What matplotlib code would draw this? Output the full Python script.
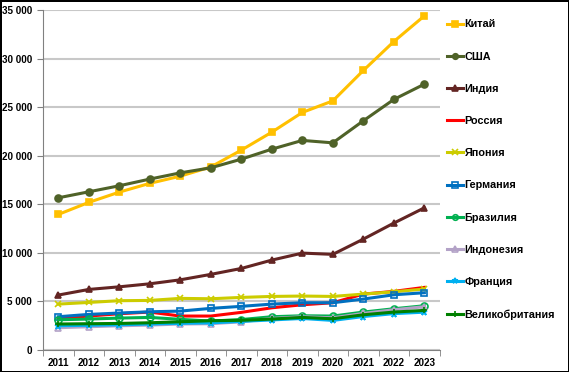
import numpy as np
import matplotlib.pyplot as plt
from matplotlib.ticker import FuncFormatter

plt.rcParams['font.family'] = ['Liberation Sans', 'DejaVu Sans']
plt.rcParams['font.weight'] = 'bold'

years = [2011, 2012, 2013, 2014, 2015, 2016, 2017, 2018, 2019, 2020, 2021, 2022, 2023]

china = [13960, 15200, 16260, 17160, 17900, 18850, 20580, 22430, 24460, 25650, 28780, 31760, 34400]
usa = [15670, 16290, 16910, 17600, 18240, 18760, 19650, 20680, 21580, 21330, 23600, 25800, 27370]
india = [5660, 6240, 6510, 6820, 7230, 7790, 8400, 9260, 9980, 9850, 11420, 13070, 14640]
russia = [3260, 3500, 3740, 3910, 3500, 3500, 3880, 4350, 4660, 4870, 5760, 6040, 6450]
japan = [4730, 4900, 5080, 5110, 5320, 5280, 5420, 5520, 5560, 5520, 5760, 6000, 6280]
germany = [3430, 3670, 3810, 3940, 4010, 4290, 4500, 4730, 4870, 4870, 5250, 5690, 5900]
brazil = [3120, 3190, 3290, 3360, 3160, 2980, 3140, 3430, 3530, 3500, 3910, 4250, 4560]
indonesia = [2300, 2400, 2500, 2570, 2680, 2710, 2910, 3260, 3430, 3320, 3770, 4150, 4460]
france = [2500, 2550, 2600, 2680, 2750, 2800, 2950, 3100, 3250, 3050, 3450, 3750, 3900]
uk = [2680, 2710, 2740, 2810, 2910, 3020, 3060, 3190, 3360, 3220, 3630, 3910, 4080]

series = [
    ('Китай', china, '#FFC000', 's', True),
    ('США', usa, '#4F6228', 'o', True),
    ('Индия', india, '#632523', '^', True),
    ('Россия', russia, '#FF0000', None, True),
    ('Япония', japan, '#CCCC00', 'x', True),
    ('Германия', germany, '#0070C0', 's', False),
    ('Бразилия', brazil, '#00B050', 'o', False),
    ('Индонезия', indonesia, '#B3A2C7', '^', False),
    ('Франция', france, '#00B0F0', '*', False),
    ('Великобритания', uk, '#008000', '+', True),
]

fig = plt.figure(figsize=(5.69, 3.72), dpi=100, edgecolor='black', linewidth=2)
ax = fig.add_axes([0.0756, 0.059, 0.697, 0.914])

x = np.arange(len(years))
for name, vals, color, marker, filled in series:
    ax.plot(x, vals, color=color, lw=2.2, marker=marker, markersize=5,
            markerfacecolor=color if filled else 'none',
            markeredgecolor=color, markeredgewidth=1.2, label=name)

ax.set_ylim(0, 35000)
ax.set_xlim(-0.5, len(years) - 0.5)
ax.set_yticks(np.arange(0, 35001, 5000))
ax.yaxis.set_major_formatter(FuncFormatter(lambda v, p: f'{int(v):,}'.replace(',', ' ')))
ax.set_xticks(x)
ax.set_xticklabels(years)
ax.set_xticks(np.arange(-0.5, len(years), 1), minor=True)
ax.tick_params(axis='x', which='major', length=0, pad=6, labelsize=7.1)
ax.tick_params(axis='x', which='minor', length=4, color='#808080')
ax.tick_params(axis='y', length=4, color='#808080', labelsize=7.1, pad=4)
ax.grid(axis='y', color='#C8C8C8', lw=1.5)
ax.set_axisbelow(True)
for s in ['top', 'right']:
    ax.spines[s].set_visible(False)
ax.spines['left'].set_color('#808080')
ax.spines['bottom'].set_color('#808080')

leg = ax.legend(loc='upper left', bbox_to_anchor=(1.0, 0.995), frameon=False,
                fontsize=7.8, labelspacing=2.05, handlelength=1.5, handletextpad=0.1,
                borderaxespad=0.3, markerscale=0.8)

fig.savefig('out.png', dpi=100, edgecolor=fig.get_edgecolor())
